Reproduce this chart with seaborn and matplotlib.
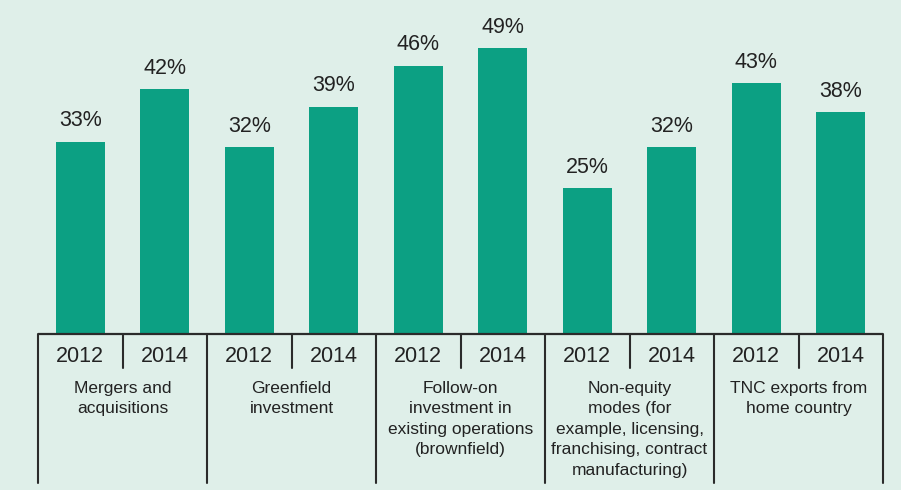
import matplotlib
matplotlib.use("Agg")
import matplotlib.pyplot as plt
import matplotlib.transforms as mtransforms
import seaborn as sns
import pandas as pd

groups = ["Mergers and\nacquisitions", "Greenfield\ninvestment",
          "Follow-on\ninvestment in\nexisting operations\n(brownfield)",
          "Non-equity\nmodes (for\nexample, licensing,\nfranchising, contract\nmanufacturing)",
          "TNC exports from\nhome country"]
years = ["2012", "2014"]
values_2012 = [33, 32, 46, 25, 43]
values_2014 = [42, 39, 49, 32, 38]

rows = []
for i, g in enumerate(groups):
    rows.append({"slot": f"{i}-2012", "value": values_2012[i]})
    rows.append({"slot": f"{i}-2014", "value": values_2014[i]})
df = pd.DataFrame(rows)
order = list(df["slot"])

bg = "#dfefe9"
bar_color = "#0ca083"
line_color = "#2b2b2b"
text_color = "#222222"

sns.set_theme(style="white")
plt.rcParams["font.family"] = ["Liberation Sans", "DejaVu Sans"]

fig = plt.figure(figsize=(9.01, 4.90), dpi=100, facecolor=bg)
ax_bottom = (490 - 334) / 490
ax = fig.add_axes([38 / 901, ax_bottom, (883 - 38) / 901, 334 / 490])
ax.set_facecolor(bg)

sns.barplot(data=df, x="slot", y="value", order=order, color=bar_color,
            width=0.58, saturation=1, ax=ax, errorbar=None, linewidth=0)

ax.set_xlim(-0.5, len(order) - 0.5)
ax.set_ylim(0, 334 / 5.83)
for s in ax.spines.values():
    s.set_visible(False)
ax.set_xticks([])
ax.set_yticks([])
ax.set_xlabel("")
ax.set_ylabel("")

# value labels
for p, v in zip(ax.patches, df["value"]):
    ax.annotate(f"{v}%", (p.get_x() + p.get_width() / 2, p.get_height()),
                xytext=(0, 7.5), textcoords="offset points", ha="center", va="bottom",
                fontsize=15.5, color=text_color)

trans = mtransforms.blended_transform_factory(ax.transData, ax.transAxes)
n = len(order)
# baseline
ax.plot([-0.5, n - 0.5], [0, 0], transform=trans, color=line_color, lw=1.6,
        clip_on=False, solid_capstyle="butt")
# group separators
for k in range(len(groups) + 1):
    x = -0.5 + 2 * k
    ax.plot([x, x], [0, -149 / 334], transform=trans, color=line_color, lw=1.5,
            clip_on=False)
# inner dividers
for k in range(len(groups)):
    x = 0.5 + 2 * k
    ax.plot([x, x], [0, -34 / 334], transform=trans, color=line_color, lw=1.5,
            clip_on=False)
# year labels
for j, s in enumerate(order):
    ax.text(j, -22 / 334, s.split("-")[1], transform=trans, ha="center", va="center",
            fontsize=15.5, color=text_color)
# group labels
for k, g in enumerate(groups):
    ax.text(2 * k + 0.5, -47 / 334, g, transform=trans, ha="center", va="top",
            fontsize=12.5, color=text_color, linespacing=1.45, multialignment="center")

fig.savefig("out.png", dpi=100, facecolor=bg)
